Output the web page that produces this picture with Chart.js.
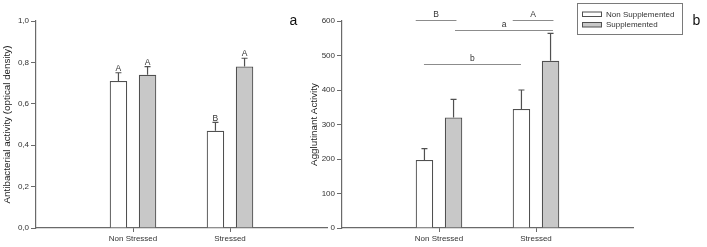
<!DOCTYPE html>
<html>
<head>
<meta charset="utf-8">
<script src="https://cdn.jsdelivr.net/npm/chart.js@4.4.0/dist/chart.umd.min.js"></script>
<style>
  body { margin: 0; background: #fff; }
  #wrap { position: relative; width: 707px; height: 247px; }
  canvas { position: absolute; left: 0; top: 0; }
</style>
</head>
<body>
<div id="wrap">
  <canvas id="chartA" width="707" height="247"></canvas>
  <canvas id="chartB" width="707" height="247"></canvas>
</div>
<script>
// categories and series
let categories = ['Non Stressed', 'Stressed'];
let catPos = [1, 2];
let seriesNames = ['Non Supplemented', 'Supplemented'];

// panel a: antibacterial activity
let antiNonSupp = [0.71, 0.47];
let antiNonSuppErr = [0.04, 0.04];
let antiSupp = [0.74, 0.78];
let antiSuppErr = [0.04, 0.04];
let antiNonSuppLetters = ['A', 'B'];
let antiSuppLetters = ['A', 'A'];

// panel b: agglutinant activity
let aggNonSupp = [197, 345];
let aggNonSuppErr = [33, 55];
let aggSupp = [320, 485];
let aggSuppErr = [53, 79];

// significance brackets in panel b
let sigText = ['B', 'A', 'a', 'b'];
let sigFrom = [0.76, 1.76, 1.165, 0.845];
let sigTo = [1.18, 2.18, 2.175, 1.845];
let sigY = [603, 603, 575, 475];

const axisColor = '#6a6a6a';
const barBorder = '#505050';
const textColor = '#333';
const fontFam = '"Liberation Sans", Arial, sans-serif';

function points(vals) {
    return vals.map((v, i) => ({ x: catPos[i], y: v }));
}

const errorBars = {
    id: 'errorBars',
    afterDatasetsDraw(chart) {
        const ctx = chart.ctx;
        const ys = chart.scales.y;
        ctx.save();
        chart.data.datasets.forEach((ds, i) => {
            const meta = chart.getDatasetMeta(i);
            meta.data.forEach((el, j) => {
                const v = ds.data[j].y;
                const top = ys.getPixelForValue(v + ds.errors[j]);
                ctx.strokeStyle = barBorder;
                ctx.lineWidth = 1.2;
                ctx.beginPath();
                ctx.moveTo(el.x, el.y);
                ctx.lineTo(el.x, top);
                ctx.moveTo(el.x - 3, top);
                ctx.lineTo(el.x + 3, top);
                ctx.stroke();
                if (ds.letters) {
                    ctx.fillStyle = textColor;
                    ctx.font = '8.5px ' + fontFam;
                    ctx.textAlign = 'center';
                    ctx.textBaseline = 'bottom';
                    ctx.fillText(ds.letters[j], el.x, top);
                }
            });
        });
        ctx.restore();
    }
};

function panelLabel(text, x) {
    return {
        id: 'panelLabel',
        afterDraw(chart) {
            const ctx = chart.ctx;
            ctx.save();
            ctx.fillStyle = '#111';
            ctx.font = '14px ' + fontFam;
            ctx.textAlign = 'center';
            ctx.textBaseline = 'alphabetic';
            ctx.fillText(text, x, 24.5);
            ctx.restore();
        }
    };
}

const sigLines = {
    id: 'sigLines',
    afterDraw(chart) {
        const ctx = chart.ctx;
        const xs = chart.scales.x, ys = chart.scales.y;
        ctx.save();
        ctx.strokeStyle = '#8c8c8c';
        ctx.lineWidth = 1;
        ctx.fillStyle = textColor;
        ctx.font = '8.5px ' + fontFam;
        ctx.textAlign = 'center';
        ctx.textBaseline = 'bottom';
        sigText.forEach((t, i) => {
            const x1 = xs.getPixelForValue(sigFrom[i]);
            const x2 = xs.getPixelForValue(sigTo[i]);
            const y = Math.round(ys.getPixelForValue(sigY[i])) + 0.5;
            ctx.beginPath();
            ctx.moveTo(x1, y);
            ctx.lineTo(x2, y);
            ctx.stroke();
            ctx.fillText(t, (x1 + x2) / 2, y - 2);
        });
        ctx.restore();
    }
};

const boxLegend = {
    id: 'boxLegend',
    afterDraw(chart) {
        const ctx = chart.ctx;
        ctx.save();
        ctx.strokeStyle = '#7a7a7a';
        ctx.lineWidth = 1;
        ctx.strokeRect(577.5, 3.5, 105, 31);
        ctx.font = '8px ' + fontFam;
        ctx.textBaseline = 'middle';
        ctx.textAlign = 'left';
        chart.data.datasets.forEach((ds, i) => {
            const y = 12 + i * 10.5;
            ctx.fillStyle = ds.backgroundColor;
            ctx.fillRect(582.5, y, 19, 4.5);
            ctx.strokeStyle = barBorder;
            ctx.strokeRect(582.5, y, 19, 4.5);
            ctx.fillStyle = textColor;
            ctx.fillText(ds.label, 606, y + 2.5);
        });
        ctx.restore();
    }
};

function makeOptions(padLeft, padRight, yWidth, yMax, yStep, yTitle, titlePad, fmt) {
    return {
        responsive: false,
        animation: false,
        devicePixelRatio: 1,
        layout: { padding: { left: padLeft, right: padRight, top: 21, bottom: 0 } },
        plugins: { legend: { display: false }, tooltip: { enabled: false } },
        datasets: { bar: { categoryPercentage: 0.6, barPercentage: 0.6 } },
        scales: {
            x: {
                type: 'linear',
                min: 0,
                max: 3,
                offset: false,
                afterBuildTicks: s => { s.ticks = catPos.map(v => ({ value: v })); },
                afterFit: s => { s.height = 19; },
                grid: { offset: false, drawOnChartArea: false, tickLength: 4, color: axisColor },
                border: { color: axisColor, width: 1.2 },
                ticks: {
                    padding: 2,
                    color: textColor,
                    font: { size: 8, family: fontFam },
                    maxRotation: 0,
                    callback: v => categories[catPos.indexOf(v)]
                }
            },
            y: {
                min: 0,
                max: yMax,
                afterFit: s => { s.width = yWidth; },
                grid: { drawOnChartArea: false, tickLength: 5, color: axisColor },
                border: { color: axisColor, width: 1.2 },
                ticks: {
                    stepSize: yStep,
                    padding: 2,
                    color: textColor,
                    font: { size: 8, family: fontFam },
                    callback: fmt
                },
                title: {
                    display: true,
                    text: yTitle,
                    color: '#222',
                    padding: { top: titlePad, bottom: 0 },
                    font: { size: 9.8, family: fontFam }
                }
            }
        }
    };
}

function makeData(v1, e1, l1, v2, e2, l2) {
    return {
        datasets: [{
            label: seriesNames[0],
            data: points(v1),
            errors: e1,
            letters: l1,
            backgroundColor: '#ffffff',
            borderColor: barBorder,
            borderWidth: 1.2
        }, {
            label: seriesNames[1],
            data: points(v2),
            errors: e2,
            letters: l2,
            backgroundColor: '#c8c8c8',
            borderColor: barBorder,
            borderWidth: 1.2
        }]
    };
}

new Chart(document.getElementById('chartA').getContext('2d'), {
    type: 'bar',
    data: makeData(antiNonSupp, antiNonSuppErr, antiNonSuppLetters, antiSupp, antiSuppErr, antiSuppLetters),
    options: makeOptions(0, 380, 36, 1, 0.2, 'Antibacterial activity (optical density)', 1.3,
        v => v.toFixed(1).replace('.', ',')),
    plugins: [errorBars, panelLabel('a', 293.5)]
});

new Chart(document.getElementById('chartB').getContext('2d'), {
    type: 'bar',
    data: makeData(aggNonSupp, aggNonSuppErr, null, aggSupp, aggSuppErr, null),
    options: makeOptions(300, 74, 42, 600, 100, 'Agglutinant Activity', 8.2, v => v),
    plugins: [errorBars, sigLines, boxLegend, panelLabel('b', 696.5)]
});
</script>
</body>
</html>
